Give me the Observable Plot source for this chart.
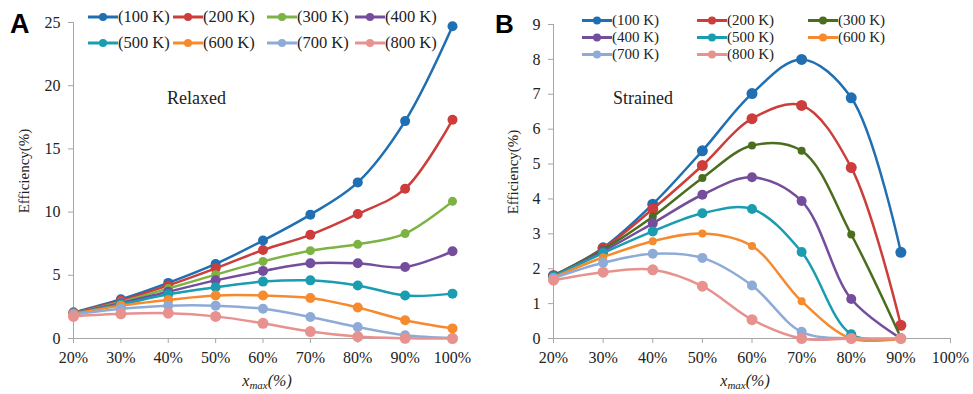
<!DOCTYPE html>
<html>
<head>
<meta charset="utf-8">
<script src="https://cdn.jsdelivr.net/npm/d3@7"></script>
<script src="https://cdn.jsdelivr.net/npm/@observablehq/plot@0.6"></script>
<style>
  html, body { margin: 0; padding: 0; background: #fff; }
  #wrap { position: relative; width: 973px; height: 394px; overflow: hidden; background: #fff; }
  #pa, #pb, #ov { position: absolute; top: 0; }
  #pa { left: 0; }
  #pb { left: 480px; }
  #ov { left: 0; pointer-events: none; }
  #wrap svg text { font-family: "Liberation Serif", "Times New Roman", serif; }
  #wrap svg text.sans { font-family: "Liberation Sans", Arial, sans-serif; }
</style>
</head>
<body>
<div id="wrap">
  <div id="pa"></div>
  <div id="pb"></div>
  <svg id="ov" width="973" height="394"></svg>
</div>
<script>
// ---- data ----
const xTicks = [20, 30, 40, 50, 60, 70, 80, 90, 100];
const xsA = [20, 30, 40, 50, 60, 70, 80, 90, 100];
const xsB = [20, 30, 40, 50, 60, 70, 80, 90];
const seriesNames = ["(100 K)", "(200 K)", "(300 K)", "(400 K)", "(500 K)", "(600 K)", "(700 K)", "(800 K)"];
const yTicksA = [0, 5, 10, 15, 20, 25];
const yTicksB = [0, 1, 2, 3, 4, 5, 6, 7, 8, 9];

// Panel A: Relaxed
const a100 = [2.05, 3.1, 4.4, 5.9, 7.75, 9.8, 12.35, 17.2, 24.7];
const a200 = [2.05, 3.0, 4.2, 5.55, 7.0, 8.2, 9.85, 11.85, 17.3];
const a300 = [2.0, 2.9, 3.95, 5.05, 6.1, 6.95, 7.45, 8.3, 10.85];
const a400 = [2.0, 2.8, 3.7, 4.6, 5.35, 5.95, 5.95, 5.65, 6.9];
const a500 = [2.0, 2.7, 3.5, 4.05, 4.5, 4.6, 4.2, 3.4, 3.55];
const a600 = [1.95, 2.6, 3.05, 3.4, 3.4, 3.2, 2.45, 1.45, 0.8];
const a700 = [1.9, 2.35, 2.6, 2.6, 2.35, 1.7, 0.9, 0.25, 0.03];
const a800 = [1.75, 1.95, 2.0, 1.75, 1.2, 0.55, 0.15, 0.02, 0.0];

// Panel B: Strained
const b100 = [1.8, 2.6, 3.85, 5.38, 7.02, 8.0, 6.9, 2.47];
const b200 = [1.8, 2.58, 3.71, 4.96, 6.3, 6.68, 4.9, 0.38];
const b300 = [1.8, 2.55, 3.49, 4.6, 5.53, 5.38, 2.98, 0.02];
const b400 = [1.78, 2.5, 3.3, 4.12, 4.62, 3.94, 1.13, 0.0];
const b500 = [1.78, 2.45, 3.07, 3.59, 3.71, 2.48, 0.12, 0.0];
const b600 = [1.75, 2.33, 2.79, 3.01, 2.65, 1.07, 0.0, 0.0];
const b700 = [1.73, 2.17, 2.43, 2.31, 1.52, 0.19, 0.0, 0.0];
const b800 = [1.67, 1.9, 1.97, 1.5, 0.54, 0.0, 0.0, 0.0];

const colorsA = ["#1f6fb2", "#cc3d3b", "#7cb342", "#744d9c", "#1a9db0", "#f58a2e", "#8eabd8", "#e8928f"];
const colorsB = ["#1f6fb2", "#cc3d3b", "#4a6e1e", "#744d9c", "#1a9db0", "#f58a2e", "#8eabd8", "#e8928f"];
const dotRA = [5, 5, 4.5, 5, 5, 5, 5, 5.5];
const dotRB = [5.5, 5.5, 4, 5, 5, 4, 5, 5.5];

const seriesA = [a100, a200, a300, a400, a500, a600, a700, a800];
const seriesB = [b100, b200, b300, b400, b500, b600, b700, b800];

const axisGray = "#a6a6a6";
const serif = "Liberation Serif, Times New Roman, serif";

function tidy(xs, vals, name) {
  return xs.map((x, i) => ({ x, y: vals[i], series: name }));
}

function makePanel(xs, seriesVals, colors, radii, yDomain, yTicks, width, marginRight, marginTop) {
  const marks = [
    Plot.ruleY([yDomain[0]], { stroke: axisGray, strokeWidth: 1 }),
    Plot.ruleX([20], { stroke: axisGray, strokeWidth: 1 }),
    Plot.axisX({ ticks: xTicks, tickFormat: d => d + "%", tickSize: 5, tickPadding: 8, stroke: axisGray, fill: "#222", label: null }),
    Plot.axisY({ ticks: yTicks, tickSize: 5, tickPadding: 8, stroke: axisGray, fill: "#222", label: null })
  ];
  seriesVals.forEach((vals, i) => {
    const d = tidy(xs, vals, seriesNames[i]);
    marks.push(Plot.line(d, { x: "x", y: "y", stroke: colors[i], strokeWidth: 2.5, curve: "catmull-rom" }));
    marks.push(Plot.dot(d, { x: "x", y: "y", fill: colors[i], r: radii[i] }));
  });
  return Plot.plot({
    width, height: 394,
    marginTop, marginBottom: 56, marginLeft: 73, marginRight,
    x: { domain: [20, 100] },
    y: { domain: yDomain },
    style: { fontFamily: serif, fontSize: "16px", color: "#222", background: "transparent" },
    marks
  });
}

document.getElementById("pa").appendChild(
  makePanel(xsA, seriesA, colorsA, dotRA, [0, 25], yTicksA, 480, 28, 22)
);
document.getElementById("pb").appendChild(
  makePanel(xsB, seriesB, colorsB, dotRB, [0, 9], yTicksB, 493, 23, 24)
);

// ---- overlay annotations & legends ----
const ov = d3.select("#ov");
function txt(x, y, s, opts = {}) {
  const t = ov.append("text").attr("x", x).attr("y", y).text(s)
    .attr("font-size", opts.size || 16)
    .attr("fill", opts.fill || "#222");
  if (opts.cls) t.attr("class", opts.cls);
  if (opts.weight) t.attr("font-weight", opts.weight);
  if (opts.anchor) t.attr("text-anchor", opts.anchor);
  return t;
}
txt(10, 33, "A", { cls: "sans", size: 27, weight: "bold", fill: "#000" });
txt(495, 33, "B", { cls: "sans", size: 26, weight: "bold", fill: "#000" });
txt(167, 104, "Relaxed", { size: 18 });
txt(613, 104, "Strained", { size: 18 });

function ylabel(cx, cy) {
  ov.append("text").attr("transform", `translate(${cx},${cy}) rotate(-90)`)
    .attr("text-anchor", "middle").attr("dy", "0.35em")
    .attr("font-size", 15).attr("fill", "#222")
    .text("Efficiency(%)");
}
ylabel(24, 171);
ylabel(513, 172);

function xlabel(cx, y) {
  const t = ov.append("text").attr("x", cx).attr("y", y).attr("text-anchor", "middle")
    .attr("font-size", 16).attr("font-style", "italic").attr("fill", "#222");
  t.append("tspan").text("x");
  t.append("tspan").attr("font-size", 11).attr("dy", 3).text("max");
  t.append("tspan").attr("dy", -3).text("(%)");
}
xlabel(267, 386);
xlabel(745, 386);

function legend(cols, rows, colors, size) {
  seriesNames.forEach((name, i) => {
    const c = i % cols.length, r = Math.floor(i / cols.length);
    const x0 = cols[c], y0 = rows[r];
    ov.append("line").attr("x1", x0).attr("x2", x0 + 30).attr("y1", y0).attr("y2", y0)
      .attr("stroke", colors[i]).attr("stroke-width", 3);
    ov.append("circle").attr("cx", x0 + 15).attr("cy", y0).attr("r", 4).attr("fill", colors[i]);
    txt(x0 + 30, y0 + size * 0.33, name, { size });
  });
}
legend([88, 173, 267, 355], [17, 43], colorsA, 16.5);
legend([582, 697, 808], [20.5, 37.5, 54.5], colorsB, 15);
</script>
</body>
</html>
